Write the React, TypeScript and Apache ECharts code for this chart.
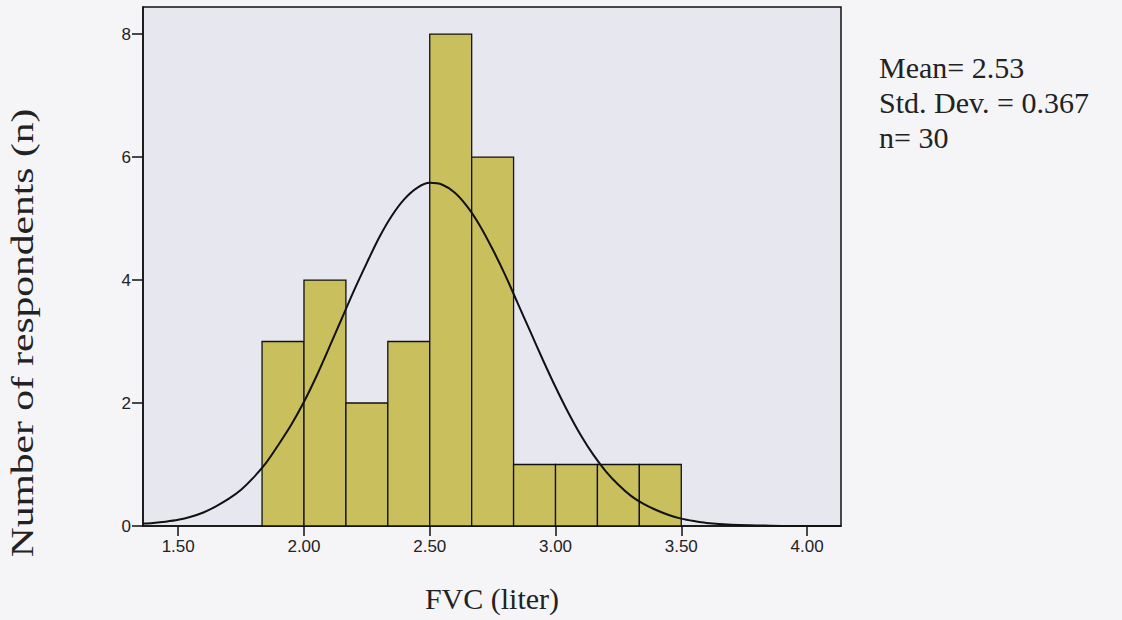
import { useEffect, useRef } from "react";
import * as echarts from "echarts";

// Histogram bins (FVC, liter) and counts
const binEdges = [1.8333, 2.0, 2.1667, 2.3333, 2.5, 2.6667, 2.8333, 3.0, 3.1667, 3.3333, 3.5];
const binCounts = [3, 4, 2, 3, 8, 6, 1, 1, 1, 1];

// Normal curve heights
const curveX = [1.36, 1.4, 1.45, 1.5, 1.55, 1.6, 1.65, 1.7, 1.75, 1.8, 1.85, 1.9, 1.95, 2.0, 2.05, 2.1, 2.15, 2.2, 2.25, 2.3, 2.35, 2.4, 2.45, 2.5, 2.55, 2.6, 2.65, 2.7, 2.75, 2.8, 2.85, 2.9, 2.95, 3.0, 3.05, 3.1, 3.15, 3.2, 3.25, 3.3, 3.35, 3.4, 3.45, 3.5, 3.55, 3.6, 3.7, 3.8, 3.9, 4.0, 4.135];
const curveY = [0.04, 0.05, 0.07, 0.1, 0.15, 0.22, 0.32, 0.44, 0.59, 0.79, 1.03, 1.33, 1.65, 2.02, 2.44, 2.9, 3.37, 3.84, 4.28, 4.7, 5.05, 5.32, 5.5, 5.58, 5.55, 5.42, 5.19, 4.88, 4.5, 4.08, 3.62, 3.16, 2.7, 2.26, 1.85, 1.48, 1.16, 0.89, 0.67, 0.49, 0.36, 0.26, 0.18, 0.12, 0.08, 0.05, 0.02, 0.01, 0.0, 0.0, 0.0];

const xTicks = [1.5, 2.0, 2.5, 3.0, 3.5, 4.0];
const yTicks = [0, 2, 4, 6, 8];
const statLines = ["Mean= 2.53", "Std. Dev. = 0.367", "n= 30"];
const xTitle = "FVC (liter)";
const yTitle = "Number of respondents (n)";

export default function App() {
  const ref = useRef<HTMLDivElement>(null);
  useEffect(() => {
    if (!ref.current) return;
    const chart = echarts.init(ref.current, null, { renderer: "svg" });
    const serif = '"Liberation Serif", "Times New Roman", serif';
    const sans = '"Liberation Sans", Arial, sans-serif';
    chart.setOption({
      animation: false,
      backgroundColor: "#f5f5f8",
      grid: {
        left: 143,
        top: 7,
        width: 698,
        height: 519,
        show: true,
        backgroundColor: "#e7e7f0",
        borderColor: "#111",
        borderWidth: 1.5,
      },
      xAxis: {
        type: "value",
        min: 1.36,
        max: 4.135,
        splitLine: { show: false },
        axisLine: { show: true, lineStyle: { color: "#111", width: 1.5 } },
        axisTick: { show: true, customValues: xTicks, length: 10, lineStyle: { color: "#111", width: 1.5 } },
        axisLabel: {
          customValues: xTicks,
          formatter: (v: number) => v.toFixed(2),
          fontFamily: sans,
          fontSize: 17,
          color: "#222",
          margin: 12,
        },
      },
      yAxis: {
        type: "value",
        min: 0,
        max: 8.44,
        splitLine: { show: false },
        axisLine: { show: true, lineStyle: { color: "#111", width: 1.5 } },
        axisTick: { show: true, customValues: yTicks, length: 11, lineStyle: { color: "#111", width: 1.5 } },
        axisLabel: {
          customValues: yTicks,
          fontFamily: sans,
          fontSize: 17,
          color: "#222",
          margin: 12,
        },
      },
      series: [
        {
          type: "custom",
          data: binCounts.map((c, i) => [binEdges[i], binEdges[i + 1], c]),
          encode: { x: [0, 1], y: 2 },
          renderItem: (_params: any, api: any) => {
            const p0 = api.coord([api.value(0), api.value(2)]);
            const p1 = api.coord([api.value(1), 0]);
            return {
              type: "rect",
              shape: { x: p0[0], y: p0[1], width: p1[0] - p0[0], height: p1[1] - p0[1] },
              style: { fill: "#c9bf5d", stroke: "#111", lineWidth: 1.3 },
            };
          },
          z: 2,
        },
        {
          type: "line",
          data: curveX.map((x, i) => [x, curveY[i]]),
          smooth: 0.3,
          symbol: "none",
          lineStyle: { color: "#111", width: 2 },
          z: 3,
        },
      ],
      graphic: [
        {
          type: "text",
          x: 22,
          y: 333,
          rotation: Math.PI / 2,
          scaleX: 1.34,
          style: { text: yTitle, font: `31px ${serif}`, fill: "#222", textAlign: "center", textVerticalAlign: "middle" },
        },
        {
          type: "text",
          x: 492,
          y: 598,
          style: { text: xTitle, font: `30px ${serif}`, fill: "#222", textAlign: "center", textVerticalAlign: "middle" },
        },
        ...statLines.map((t, i) => ({
          type: "text",
          x: 879,
          y: 67 + i * 35,
          style: { text: t, font: `30px ${serif}`, fill: "#222", textAlign: "left", textVerticalAlign: "middle" },
        })),
      ],
    });
    return () => chart.dispose();
  }, []);
  return <div ref={ref} style={{ position: "fixed", left: 0, top: 0, width: 1122, height: 620 }} />;
}
